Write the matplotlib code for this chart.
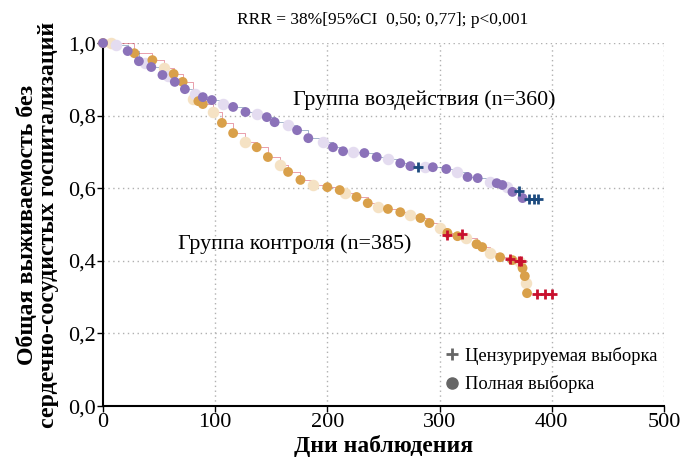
import matplotlib
matplotlib.use("Agg")
import matplotlib.pyplot as plt
from matplotlib.lines import Line2D

# ---- data ----
treat_days = [0, 12, 22, 32, 37, 43, 53, 58, 64, 73, 82, 89, 97, 107, 116, 127, 137, 146,
              153, 165, 173, 183, 196, 205, 214, 223, 233, 244, 254, 265, 274, 287, 294,
              306, 316, 325, 334, 345, 351, 356, 360, 365, 374]
treat_surv = [1.0, 0.994, 0.978, 0.950, 0.946, 0.934, 0.912, 0.909, 0.893, 0.873, 0.860,
              0.851, 0.843, 0.832, 0.824, 0.810, 0.804, 0.796, 0.782, 0.774, 0.760, 0.738,
              0.727, 0.713, 0.702, 0.700, 0.697, 0.686, 0.680, 0.669, 0.661, 0.658, 0.658,
              0.653, 0.645, 0.631, 0.628, 0.617, 0.614, 0.609, 0.603, 0.590, 0.573]
treat_cens_days = [281, 371, 380, 384, 388]
treat_cens_surv = [0.658, 0.592, 0.571, 0.571, 0.571]

ctrl_days = [0, 7, 28, 44, 54, 63, 71, 80, 85, 89, 98, 106, 116, 127, 137, 147, 158, 165,
             176, 187, 200, 211, 216, 226, 236, 245, 254, 265, 274, 283, 291, 300, 307,
             316, 324, 333, 338, 345, 354, 365, 372, 374, 376, 377, 378]
ctrl_surv = [1.0, 1.0, 0.972, 0.953, 0.930, 0.915, 0.893, 0.846, 0.840, 0.832, 0.810,
             0.780, 0.752, 0.727, 0.713, 0.686, 0.664, 0.645, 0.623, 0.609, 0.603, 0.595,
             0.587, 0.576, 0.559, 0.548, 0.543, 0.534, 0.526, 0.518, 0.504, 0.490, 0.477,
             0.468, 0.463, 0.446, 0.438, 0.421, 0.410, 0.402, 0.397, 0.380, 0.358, 0.339,
             0.311]
ctrl_cens_days = [307, 320, 363, 371, 373, 387, 394, 400]
ctrl_cens_surv = [0.470, 0.473, 0.405, 0.400, 0.400, 0.309, 0.309, 0.309]

x_ticks = [0, 100, 200, 300, 400, 500]
y_ticks = [0.0, 0.2, 0.4, 0.6, 0.8, 1.0]
y_tick_labels = ["0,0", "0,2", "0,4", "0,6", "0,8", "1,0"]

title = "RRR = 38%[95%CI  0,50; 0,77]; p<0,001"
label_treat = "Группа воздействия (n=360)"
label_ctrl = "Группа контроля (n=385)"
xlabel = "Дни наблюдения"
ylabel = "Общая выживаемость без\nсердечно-сосудистых госпитализаций"
legend_labels = ["Цензурируемая выборка", "Полная выборка"]

# ---- style ----
plt.rcParams['font.family'] = ['Liberation Serif', 'DejaVu Serif']
purple = "#8b72b9"
purple_pale = "#e4dcf0"
orange = "#d9a04a"
orange_pale = "#f5e2c4"
navy = "#1c4a7e"
crimson = "#c8102e"

fig = plt.figure(figsize=(6.84, 4.63), dpi=100)
ax = fig.add_axes([0.1506, 0.123, 0.820, 0.784])

ax.set_xlim(0, 500)
ax.set_ylim(0, 1.0)

for y in y_ticks[1:]:
    ax.axhline(y, color="#b0b0b0", lw=1.0, ls=(0, (1, 2.5)), zorder=0)
for x in x_ticks[1:]:
    ax.axvline(x, color="#b0b0b0", lw=1.0, ls=(0, (1, 2.5)), zorder=0)

def draw_group(days, surv, dark, pale, line_col, cdays, csurv):
    ax.step(days, surv, where="post", color=line_col, lw=0.4, alpha=0.7, zorder=2)
    dd = [d for i, d in enumerate(days) if i % 3 == 1]
    ss = [s for i, s in enumerate(surv) if i % 3 == 1]
    fd = [d for i, d in enumerate(days) if i % 3 != 1]
    fs = [s for i, s in enumerate(surv) if i % 3 != 1]
    ax.scatter(dd, ss, s=50, facecolor=pale, edgecolors=pale, linewidths=1.2,
               zorder=3, clip_on=False)
    ax.scatter(fd, fs, s=50, color=dark, edgecolors="none", zorder=4, clip_on=False)
    ax.scatter(cdays, csurv, marker="+", s=60, color=line_col, linewidths=2.0,
               zorder=5, clip_on=False)

draw_group(ctrl_days, ctrl_surv, orange, orange_pale, crimson, ctrl_cens_days, ctrl_cens_surv)
draw_group(treat_days, treat_surv, purple, purple_pale, navy, treat_cens_days, treat_cens_surv)

ax.text(169, 0.843, label_treat, fontsize=15.8, va="center", ha="left")
ax.text(67, 0.447, label_ctrl, fontsize=15.8, va="center", ha="left")
fig.text(0.56, 0.957, title, fontsize=12.5, ha="center", va="center")

ax.set_xticks(x_ticks)
ax.set_xticklabels([str(v) for v in x_ticks], fontsize=16)
ax.set_yticks(y_ticks)
ax.set_yticklabels(y_tick_labels, fontsize=16)
ax.tick_params(axis="both", direction="out", length=4, width=1, pad=1)

for side in ["top", "right"]:
    ax.spines[side].set_visible(False)
for side in ["left", "bottom"]:
    ax.spines[side].set_linewidth(1.5)

ax.set_xlabel(xlabel, fontsize=17, fontweight="bold", labelpad=2)
ax.set_ylabel(ylabel, fontsize=17.2, fontweight="bold", labelpad=7, linespacing=0.95)

handles = [Line2D([], [], marker="+", ls="none", color="#666666", markersize=9, mew=2),
           Line2D([], [], marker="o", ls="none", color="#666666", markersize=8)]
ax.legend(handles, legend_labels, loc="lower right", bbox_to_anchor=(1.012, 0.0),
          frameon=False, fontsize=13.3, handletextpad=0.2, borderpad=0.2,
          labelspacing=0.55, handlelength=1.0)

fig.savefig("out.png", dpi=100)
